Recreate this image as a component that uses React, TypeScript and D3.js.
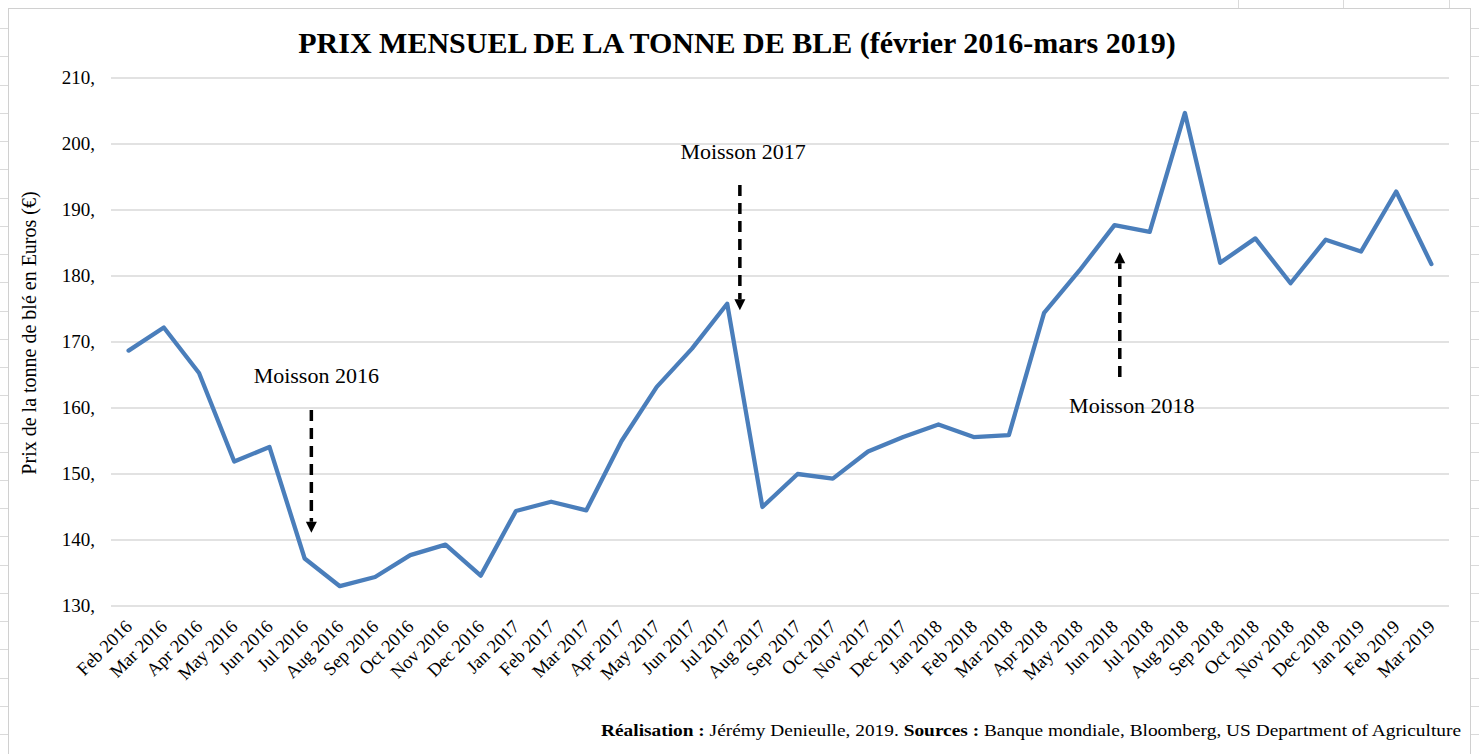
import { useEffect, useRef } from "react";
import * as d3 from "d3";

const months = [
  "Feb 2016", "Mar 2016", "Apr 2016", "May 2016", "Jun 2016", "Jul 2016",
  "Aug 2016", "Sep 2016", "Oct 2016", "Nov 2016", "Dec 2016",
  "Jan 2017", "Feb 2017", "Mar 2017", "Apr 2017", "May 2017", "Jun 2017",
  "Jul 2017", "Aug 2017", "Sep 2017", "Oct 2017", "Nov 2017", "Dec 2017",
  "Jan 2018", "Feb 2018", "Mar 2018", "Apr 2018", "May 2018", "Jun 2018",
  "Jul 2018", "Aug 2018", "Sep 2018", "Oct 2018", "Nov 2018", "Dec 2018",
  "Jan 2019", "Feb 2019", "Mar 2019",
];

const prices = [
  168.7, 172.2, 165.3, 151.9, 154.1, 137.2, 133.0, 134.4, 137.7, 139.3, 134.6,
  144.4, 145.8, 144.5, 155.0, 163.2, 169.0, 175.8, 145.0, 150.0, 149.3, 153.4,
  155.6, 157.5, 155.6, 155.9, 174.4, 180.8, 187.7, 186.7, 204.7, 182.0, 185.7,
  178.9, 185.5, 183.7, 192.8, 181.8,
];

const yTicks = [130, 140, 150, 160, 170, 180, 190, 200, 210];

// harvest annotations: position as month index + value
const harvests = [
  { label: "Moisson 2016", at: 5.19, from: 159.7, to: 141.1, textAt: 5.33, textVal: 163.8 },
  { label: "Moisson 2017", at: 17.36, from: 193.8, to: 174.8, textAt: 17.45, textVal: 197.7 },
  { label: "Moisson 2018", at: 28.15, from: 164.7, to: 183.6, textAt: 28.49, textVal: 159.2 },
];

const W = 1479;
const H = 754;

export default function App() {
  const ref = useRef<SVGSVGElement | null>(null);

  useEffect(() => {
    if (!ref.current) return;
    const svg = d3.select(ref.current);
    svg.selectAll("*").remove();

    const font = "'Liberation Serif', 'Times New Roman', serif";

    const x = d3.scalePoint<string>().domain(months).range([111, 1449]).padding(0.5);
    const y = d3.scaleLinear().domain([130, 210]).range([606, 78]);
    const xi = d3.scaleLinear().domain([0, months.length - 1])
      .range([x(months[0])!, x(months[months.length - 1])!]);

    svg.append("rect").attr("width", W).attr("height", H).attr("fill", "#fff");

    // spreadsheet cells peeking behind the chart
    const deco = svg.append("g").attr("stroke", "#dadada").attr("stroke-width", 1);
    d3.range(1, 27).forEach((k) => {
      const yy = Math.round(k * 28.23) + 0.5;
      deco.append("line").attr("x1", 0).attr("x2", 8).attr("y1", yy).attr("y2", yy);
      deco.append("line").attr("x1", 1470).attr("x2", W).attr("y1", yy).attr("y2", yy);
    });
    [1238, 1343, 1449].forEach((xx) => {
      deco.append("line").attr("x1", xx + 0.5).attr("x2", xx + 0.5).attr("y1", 0).attr("y2", 8);
    });
    svg.append("rect")
      .attr("x", 8.5).attr("y", 8.5).attr("width", 1462).attr("height", H)
      .attr("fill", "#fff").attr("stroke", "#d0d0d0");

    // title
    svg.append("text")
      .attr("x", 737).attr("y", 53)
      .attr("text-anchor", "middle")
      .attr("font-family", font).attr("font-weight", "bold").attr("font-size", 30)
      .text("PRIX MENSUEL DE LA TONNE DE BLE (février 2016-mars 2019)");

    // grid + y labels
    const grid = svg.append("g");
    yTicks.forEach((t) => {
      grid.append("line")
        .attr("x1", 111).attr("x2", 1449)
        .attr("y1", y(t)).attr("y2", y(t))
        .attr("stroke", "#d9d9d9").attr("stroke-width", 1.3);
      grid.append("text")
        .attr("x", 95).attr("y", y(t)).attr("dy", "0.3em")
        .attr("text-anchor", "end")
        .attr("font-family", font).attr("font-size", 19)
        .text(`${t},`);
    });

    // y title
    svg.append("text")
      .attr("transform", "translate(36,333) rotate(-90)")
      .attr("text-anchor", "middle")
      .attr("font-family", font).attr("font-size", 20)
      .text("Prix de la tonne de blé en Euros (€)");

    // x labels
    svg.append("g").selectAll("text").data(months).join("text")
      .attr("transform", (d) => `translate(${x(d)},623) rotate(-45)`)
      .attr("dy", "0.35em")
      .attr("text-anchor", "end")
      .attr("font-family", font).attr("font-size", 18.5)
      .text((d) => d);

    // price line
    const line = d3.line<number>()
      .x((_, i) => x(months[i])!)
      .y((d) => y(d));
    svg.append("path")
      .datum(prices)
      .attr("d", line)
      .attr("fill", "none")
      .attr("stroke", "#4a7ebb")
      .attr("stroke-width", 4.3)
      .attr("stroke-linejoin", "round")
      .attr("stroke-linecap", "round");

    // harvest arrows
    const ann = svg.append("g");
    harvests.forEach((h) => {
      const ax = xi(h.at);
      const y0 = y(h.from);
      const y1 = y(h.to);
      const dir = y1 > y0 ? 1 : -1;
      const head = 11;
      ann.append("line")
        .attr("x1", ax).attr("x2", ax)
        .attr("y1", y0).attr("y2", y1 - dir * head)
        .attr("stroke", "#000").attr("stroke-width", 3.5)
        .attr("stroke-dasharray", "11,7");
      ann.append("path")
        .attr("d", `M${ax - 5.5},${y1 - dir * head} L${ax + 5.5},${y1 - dir * head} L${ax},${y1} Z`)
        .attr("fill", "#000");
      ann.append("text")
        .attr("x", xi(h.textAt)).attr("y", y(h.textVal))
        .attr("text-anchor", "middle")
        .attr("font-family", font).attr("font-size", 22)
        .text(h.label);
    });

    // footer
    const foot = svg.append("text")
      .attr("x", 601).attr("y", 736)
      .attr("font-family", font).attr("font-size", 17)
      .attr("textLength", 860).attr("lengthAdjust", "spacingAndGlyphs");
    foot.append("tspan").attr("font-weight", "bold").text("Réalisation :");
    foot.append("tspan").text(" Jérémy Denieulle, 2019. ");
    foot.append("tspan").attr("font-weight", "bold").text("Sources :");
    foot.append("tspan").text(" Banque mondiale, Bloomberg, US Department of Agriculture");
  }, []);

  return (
    <svg
      ref={ref}
      width={W}
      height={H}
      style={{ position: "absolute", left: 0, top: 0, display: "block" }}
    />
  );
}
